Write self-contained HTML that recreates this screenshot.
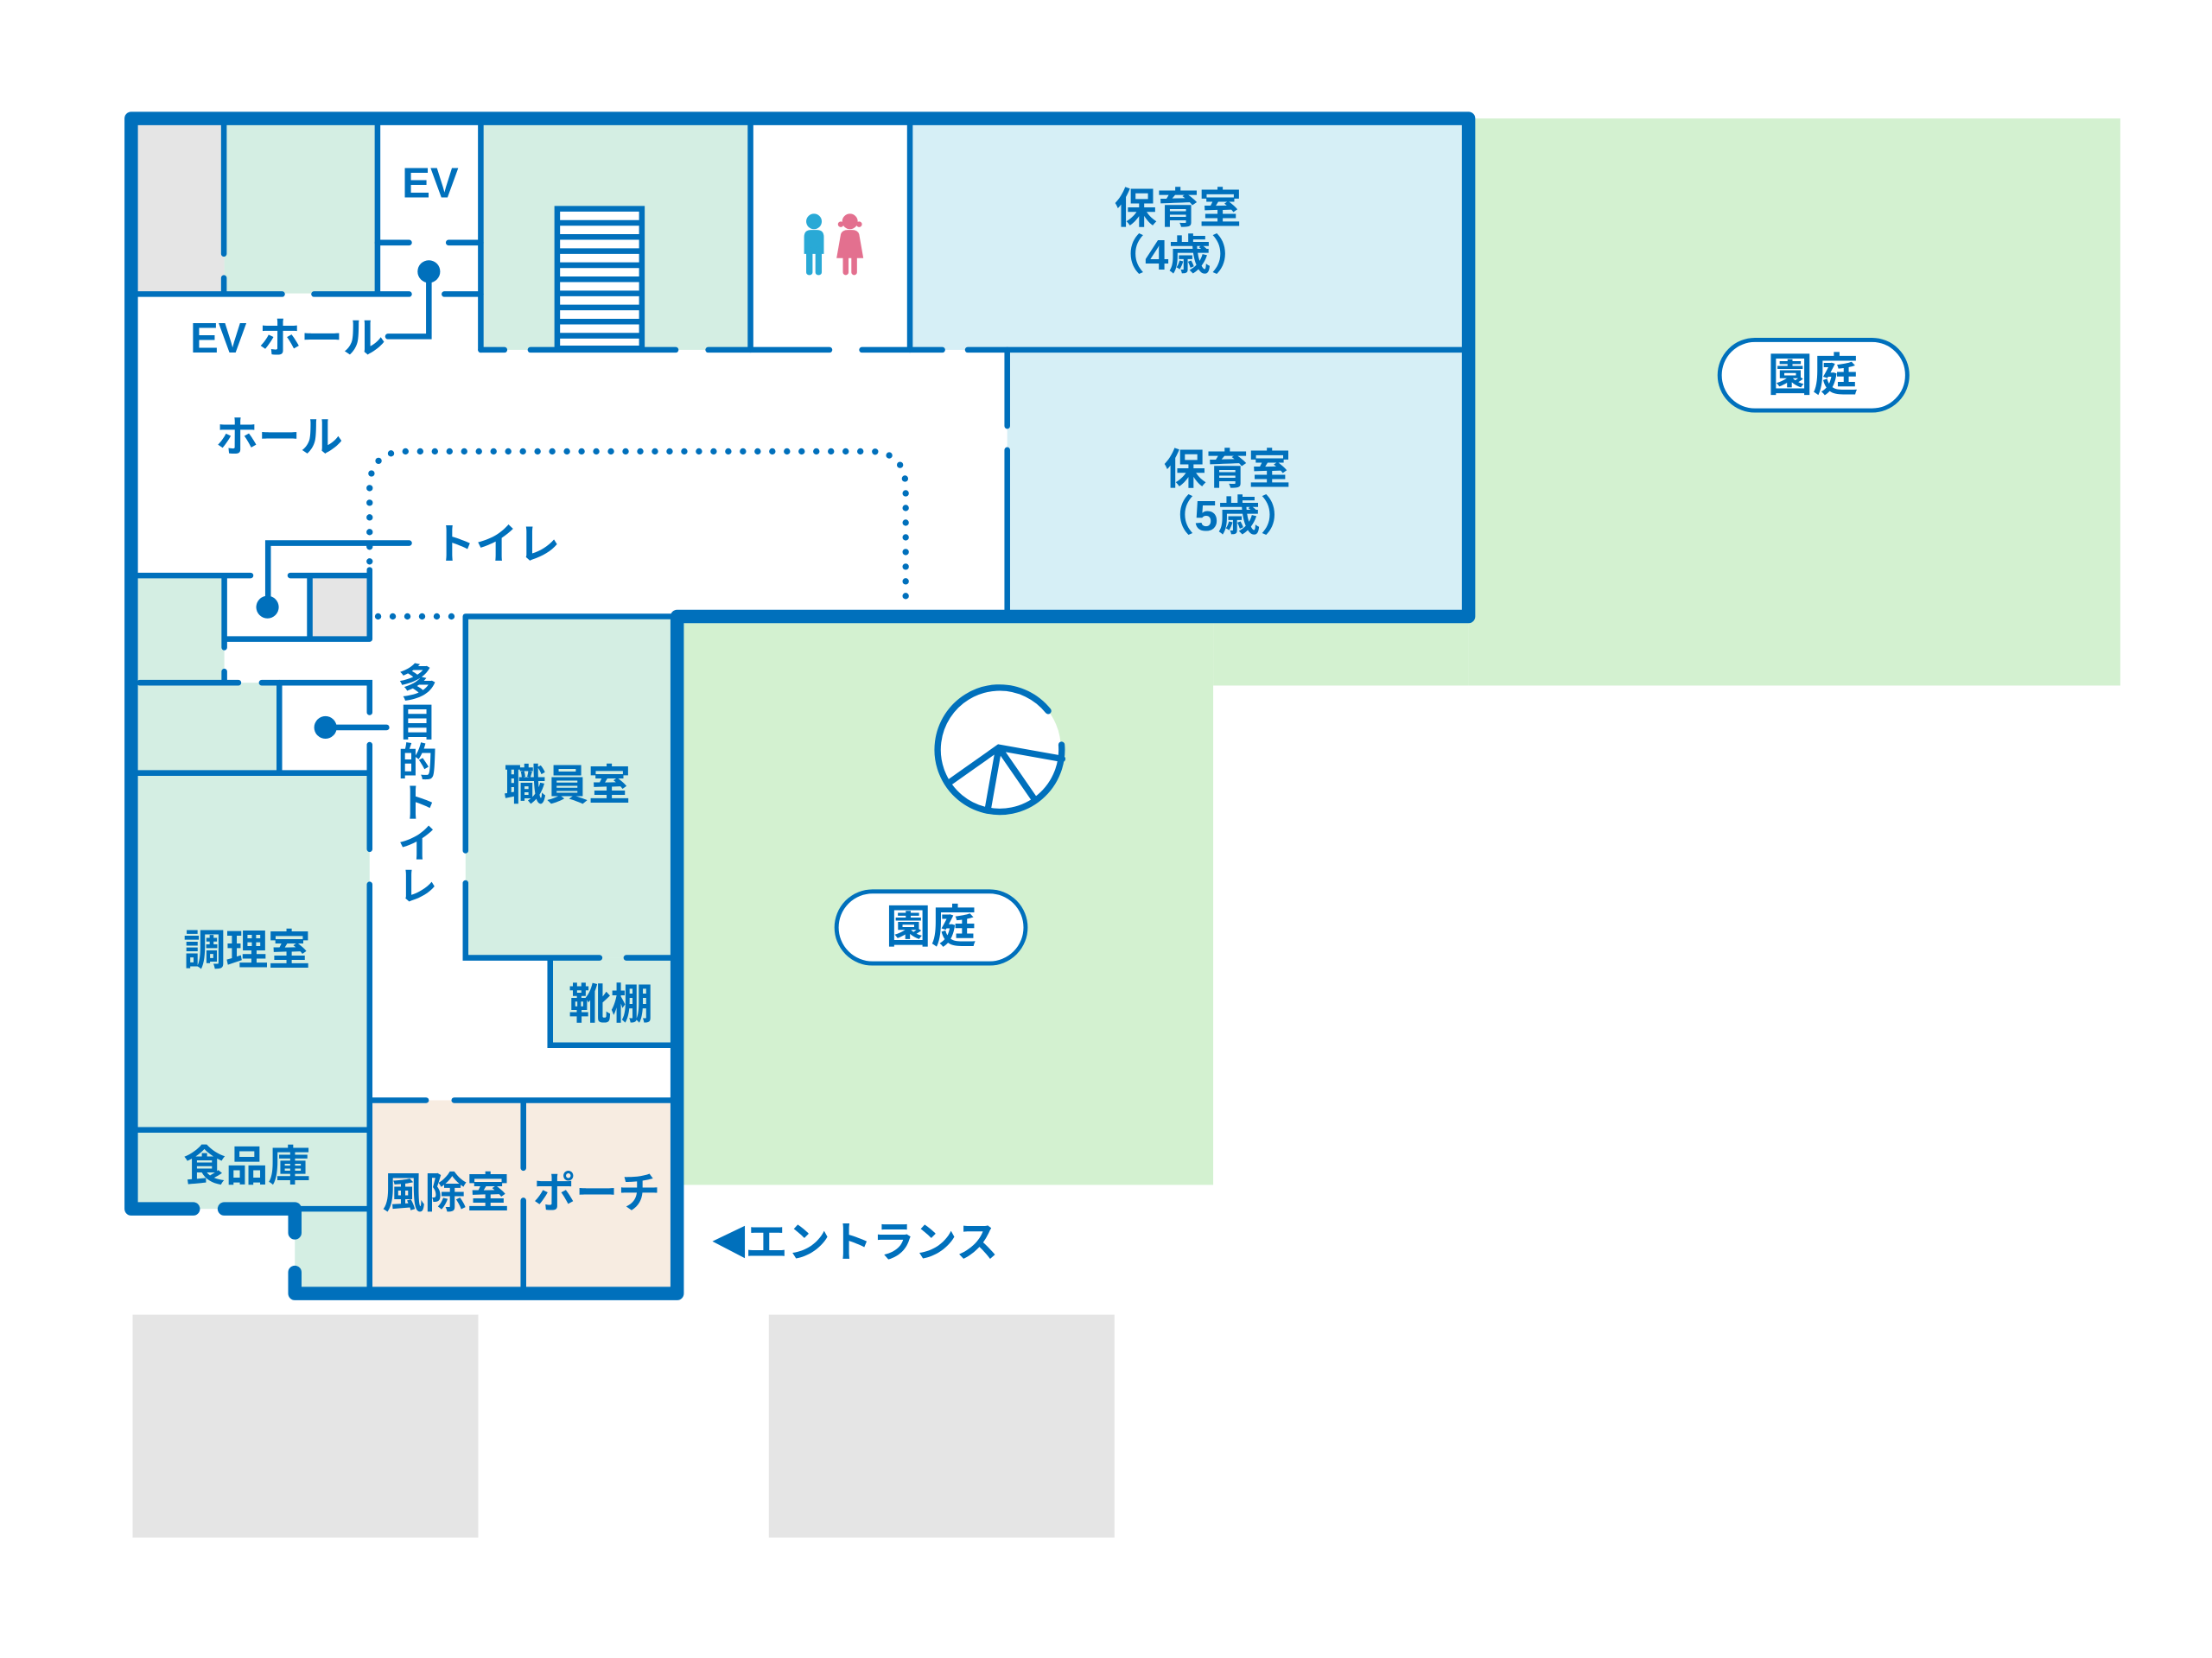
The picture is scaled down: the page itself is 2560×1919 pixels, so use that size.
<!DOCTYPE html>
<html><head><meta charset="utf-8"><style>
html,body{margin:0;padding:0;background:#fff;}
svg{display:block;}
text{font-family:"Liberation Sans","Noto Sans CJK JP",sans-serif;font-weight:700;fill:#0070bc;}
</style></head><body>
<svg width="2560" height="1919" viewBox="0 0 1568 1175.4" xmlns="http://www.w3.org/2000/svg">
<rect x="0" y="0" width="1568" height="1176" fill="#fff"/>
<rect x="1041" y="84" width="462" height="402" fill="#d3f1d0"/>
<rect x="480" y="437" width="380" height="403" fill="#d3f1d0"/>
<rect x="860" y="437" width="181" height="49" fill="#d3f1d0"/>
<rect x="94" y="932" width="245" height="158" fill="#e5e5e5"/>
<rect x="545" y="932" width="245" height="158" fill="#e5e5e5"/>
<rect x="97" y="88" width="62" height="120" fill="#e5e5e5"/>
<rect x="159" y="88" width="109" height="120" fill="#d4eee3"/>
<rect x="341" y="88" width="191" height="160" fill="#d4eee3"/>
<rect x="645" y="88" width="392" height="160" fill="#d6eff6"/>
<rect x="714" y="248" width="323" height="186" fill="#d6eff6"/>
<rect x="97" y="408" width="62" height="76" fill="#d4eee3"/>
<rect x="220" y="408" width="42" height="45" fill="#e5e5e5"/>
<rect x="97" y="484" width="101" height="64" fill="#d4eee3"/>
<rect x="97" y="548" width="165" height="309" fill="#d4eee3"/>
<rect x="209" y="857" width="53" height="60" fill="#d4eee3"/>
<rect x="330" y="437" width="146" height="242" fill="#d4eee3"/>
<rect x="390" y="679" width="86" height="62" fill="#d4eee3"/>
<rect x="262" y="780" width="214" height="137" fill="#f7ece1"/>
<g stroke="#0070bc" stroke-width="4" stroke-linecap="round" fill="none">
<path d="M158.7 88V180M158.7 197V208"/>
<path d="M267.6 88V208"/>
<path d="M267.6 172H290M318 172H340.8"/>
<path d="M340.8 88V248"/>
<path d="M97 208.5H200M222.6 208.5H290M315 208.5H340.8"/>
<path d="M304 192V238.5H275"/>
<path d="M532 88V248M645 88V248"/>
<path d="M340.8 248H357.6M376 248H479M502 248H588M611 248H668M686 248H1036"/>
<path d="M714 248V302M714 319V433"/>
<path d="M97 408H177.6M205.8 408H262M159 408V459M159 476V484M219.6 408V453M159 453H262M262 404V453"/>
<path d="M190 430V385H290"/>
<path d="M99 484H169M185.5 484H262V505M262 528V602M262 627V913"/>
<path d="M198 484V548M97 548H262M97 801H262M213 857H262"/>
<path d="M230.7 515.7H274"/>
<path d="M330 437H476M330 437V603M330 626V679H425M444 679H476M390 679V741H476"/>
<path d="M262 780H302M322 780H476M371 780V828M371 851V913"/>
</g>
<circle cx="304" cy="192.5" r="8" fill="#0070bc"/>
<circle cx="189.6" cy="430.4" r="8" fill="#0070bc"/>
<circle cx="230.7" cy="515.7" r="8" fill="#0070bc"/>
<g stroke="#0070bc" stroke-width="4.5" stroke-linecap="round" fill="none" stroke-dasharray="0 10.4">
<path d="M262 398V346Q262 320 288 320H616Q642 320 642 346V430"/>
<path d="M268 437H330"/>
</g>
<g stroke="#0070bc" stroke-width="9.5" stroke-linecap="round" stroke-linejoin="round" fill="none">
<path d="M137 857H93V84H1041V437H480V917H209V902"/>
<path d="M159 857H209V874"/>
</g>
<g stroke="#0070bc" stroke-width="4" fill="#fff">
<rect x="395" y="148" width="60" height="99"/>
<path d="M395 158H455M395 168H455M395 178H455M395 188H455M395 198H455M395 208H455M395 218H455M395 228H455M395 238H455"/>
</g>
<g fill="#29a9d6">
<circle cx="577" cy="157" r="5.5"/>
<path d="M570 180V168Q570 163 575 163H579Q584 163 584 168V180Z"/>
<rect x="571.5" y="175" width="4.5" height="20" rx="2"/>
<rect x="578" y="175" width="4.5" height="20" rx="2"/>
</g>
<g fill="#e3708f">
<circle cx="602.5" cy="157" r="5.5"/>
<circle cx="596" cy="159" r="2"/><circle cx="609" cy="159" r="2"/>
<path d="M596 166Q597 163 601 163H604Q608 163 609 166L612 183H593Z"/>
<rect x="597.5" y="180" width="4" height="15" rx="2"/>
<rect x="603.5" y="180" width="4" height="15" rx="2"/>
</g>
<circle cx="708" cy="530.5" r="44" fill="#fff"/>
<g stroke="#0070bc" stroke-width="4.5" fill="none" stroke-linecap="round">
<path d="M743 504A44 44 0 1 0 752.5 528"/>
<path d="M753 538L708 530L674 554M708 530L700.4 572.7M708 530L732.6 565.6"/>
</g>
<rect x="1219" y="241" width="133" height="50" rx="25" fill="#fff" stroke="#0070bc" stroke-width="3"/>
<rect x="593" y="632" width="134" height="51" rx="25.5" fill="#fff" stroke="#0070bc" stroke-width="3"/>
<path d="M505 880L528 869V892Z" fill="#0070bc"/>
<g font-size="30" text-anchor="middle">
<text x="305" y="140">EV</text>
<text x="204" y="250">EV ホール</text>
<text x="198" y="320">ホール</text>
<text x="352" y="396">トイレ</text>
<text x="835" y="158">保育室</text>
<text x="835" y="191">（4歳）</text>
<text x="870" y="343">保育室</text>
<text x="870" y="376">（5歳）</text>
<text x="1285" y="277" font-size="32">園庭</text>
<text x="660" y="668" font-size="32">園庭</text>
<text x="402" y="567">職員室</text>
<text x="175" y="684">調理室</text>
<text x="433" y="722">靴棚</text>
<text x="175" y="837">食品庫</text>
<text x="316" y="856">風除室</text>
<text x="423" y="856">ポーチ</text>
<text x="618" y="891">エントランス</text>
</g>
<g font-size="28" text-anchor="middle">
<text x="296" y="494">多</text>
<text x="296" y="522">目</text>
<text x="296" y="550">的</text>
<text x="296" y="579">ト</text>
<text x="296" y="608">イ</text>
<text x="296" y="638">レ</text>
</g>
</svg>
</body></html>
